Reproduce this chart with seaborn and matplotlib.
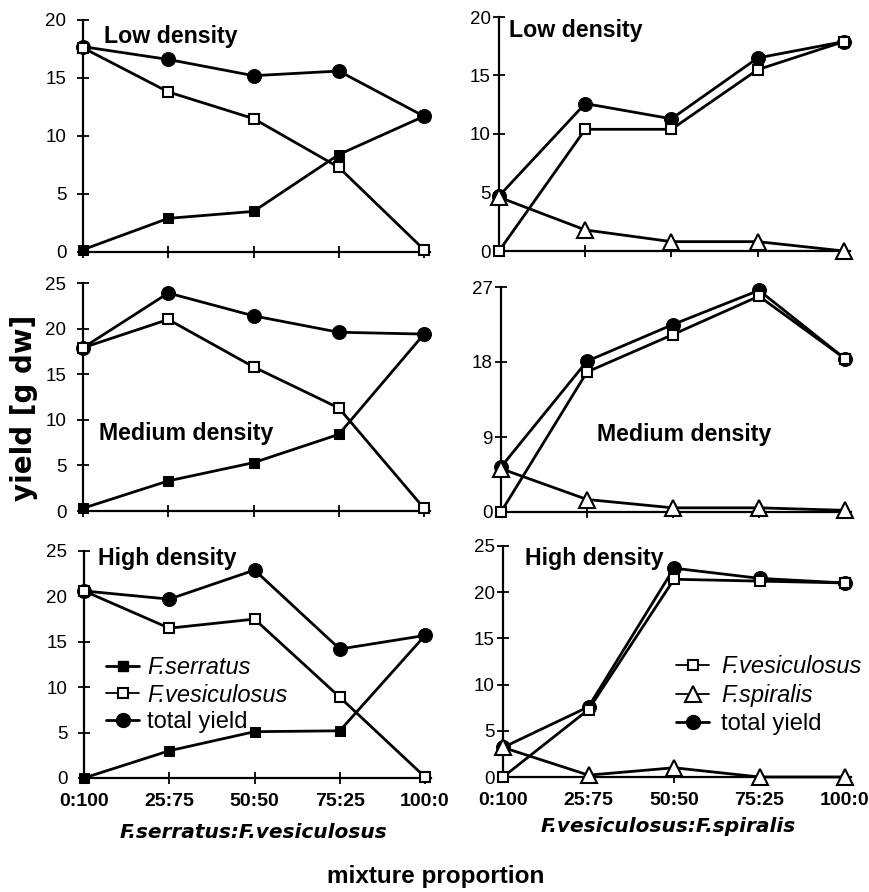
import numpy as np
import pandas as pd
import matplotlib
matplotlib.use("Agg")
import matplotlib.pyplot as plt
import seaborn as sns
from matplotlib.lines import Line2D

sns.set_style("ticks")
plt.rcParams['font.family'] = ['Liberation Sans', 'DejaVu Sans']
plt.rcParams['text.color'] = 'black'
plt.rcParams['axes.labelcolor'] = 'black'
plt.rcParams['xtick.color'] = 'black'
plt.rcParams['ytick.color'] = 'black'
plt.rcParams['axes.edgecolor'] = 'black'

# ---------------- data ----------------
proportions = ["0:100", "25:75", "50:50", "75:25", "100:0"]

# left column: F.serratus : F.vesiculosus
low_L_serratus = [0.2, 2.9, 3.5, 8.4, 11.7]
low_L_vesic = [17.6, 13.8, 11.5, 7.3, 0.2]
low_L_total = [17.7, 16.6, 15.2, 15.6, 11.7]

med_L_serratus = [0.3, 3.3, 5.3, 8.4, 19.4]
med_L_vesic = [17.9, 21.0, 15.8, 11.3, 0.3]
med_L_total = [17.9, 23.9, 21.4, 19.6, 19.4]

high_L_serratus = [0.0, 3.0, 5.1, 5.2, 15.7]
high_L_vesic = [20.6, 16.5, 17.5, 8.9, 0.1]
high_L_total = [20.6, 19.7, 22.9, 14.2, 15.7]

# right column: F.vesiculosus : F.spiralis
low_R_vesic = [0.0, 10.4, 10.4, 15.5, 17.9]
low_R_spiralis = [4.6, 1.8, 0.8, 0.8, 0.0]
low_R_total = [4.7, 12.6, 11.3, 16.5, 17.9]

med_R_vesic = [0.0, 16.8, 21.3, 25.9, 18.4]
med_R_spiralis = [5.2, 1.5, 0.5, 0.5, 0.2]
med_R_total = [5.4, 18.1, 22.5, 26.6, 18.4]

high_R_vesic = [0.0, 7.3, 21.4, 21.2, 21.0]
high_R_spiralis = [3.2, 0.2, 1.0, 0.0, 0.0]
high_R_total = [3.2, 7.6, 22.6, 21.5, 21.0]

density_titles = ["Low density", "Medium density", "High density"]
left_xlabel = "F.serratus:F.vesiculosus"
right_xlabel = "F.vesiculosus:F.spiralis"

# ---------------- figure ----------------
W, H = 870, 892
fig = plt.figure(figsize=(W / 100, H / 100), dpi=100)

def ax_px(x0, x1, ytop, ybot):
    return fig.add_axes([x0 / W, 1 - ybot / H, (x1 - x0) / W, (ybot - ytop) / H])

axes = {
    ("L", 0): ax_px(83, 430, 20, 252),
    ("R", 0): ax_px(499, 850, 17, 251),
    ("L", 1): ax_px(83, 430, 283, 511),
    ("R", 1): ax_px(501, 851, 287, 512),
    ("L", 2): ax_px(84, 431, 551, 778),
    ("R", 2): ax_px(503, 851, 546, 777),
}

xs = np.arange(len(proportions))

styles = {
    "total": dict(marker="o", markersize=10, markerfacecolor="black", markeredgecolor="black"),
    "serratus": dict(marker="s", markersize=7.5, markerfacecolor="black", markeredgecolor="black"),
    "vesic": dict(marker="s", markersize=7.5, markerfacecolor="white", markeredgecolor="black", markeredgewidth=1.5),
    "spiralis": dict(marker="^", markersize=12, markerfacecolor="white", markeredgecolor="black", markeredgewidth=1.5),
}

def draw(ax, key, vals):
    df = pd.DataFrame({"x": xs, "y": vals})
    sns.lineplot(data=df, x="x", y="y", ax=ax, color="black", linewidth=2,
                 sort=False, clip_on=False, zorder=3, **styles[key])

left_sets = [
    (low_L_serratus, low_L_vesic, low_L_total),
    (med_L_serratus, med_L_vesic, med_L_total),
    (high_L_serratus, high_L_vesic, high_L_total),
]
right_sets = [
    (low_R_vesic, low_R_spiralis, low_R_total),
    (med_R_vesic, med_R_spiralis, med_R_total),
    (high_R_vesic, high_R_spiralis, high_R_total),
]

ylims = {("L", 0): 20, ("R", 0): 20, ("L", 1): 25, ("R", 1): 27, ("L", 2): 25, ("R", 2): 25}
yticks = {("L", 0): [0, 5, 10, 15, 20], ("R", 0): [0, 5, 10, 15, 20],
          ("L", 1): [0, 5, 10, 15, 20, 25], ("R", 1): [0, 9, 18, 27],
          ("L", 2): [0, 5, 10, 15, 20, 25], ("R", 2): [0, 5, 10, 15, 20, 25]}

for i in range(3):
    ser, ves, tot = left_sets[i]
    ax = axes[("L", i)]
    draw(ax, "total", tot)
    draw(ax, "vesic", ves)
    draw(ax, "serratus", ser)
    ves2, spi, tot2 = right_sets[i]
    ax = axes[("R", i)]
    draw(ax, "total", tot2)
    draw(ax, "vesic", ves2)
    draw(ax, "spiralis", spi)

for (col, i), ax in axes.items():
    ax.set_xlim(0, 4.07)
    ax.set_ylim(0, ylims[(col, i)])
    ax.set_yticks(yticks[(col, i)])
    ax.set_xticks(xs)
    sns.despine(ax=ax)
    for s in ("left", "bottom"):
        ax.spines[s].set_linewidth(1.6)
        ax.spines[s].set_color("black")
    ax.tick_params(axis="both", direction="inout", length=8, width=1.3,
                   labelsize=13.5, colors="black")
    ax.tick_params(axis="y", pad=8 if col == "L" else 2)
    ax.set_xlabel("")
    ax.set_ylabel("")
    if i == 2:
        ax.set_xticklabels(proportions, fontsize=14, fontweight="bold")
        ax.tick_params(axis="x", pad=7)
    else:
        ax.set_xticklabels([])

# panel titles
title_pos = {("L", 0): (104, 36), ("R", 0): (509, 31), ("L", 1): (99, 434),
             ("R", 1): (597, 435), ("L", 2): (98, 558), ("R", 2): (525, 558)}
for (col, i), (px, py) in title_pos.items():
    fig.text(px / W, 1 - py / H, density_titles[i], fontsize=16.7, fontweight="bold",
             ha="left", va="center")

# legends
lh_left = [
    Line2D([], [], color="black", linewidth=2, **styles["serratus"]),
    Line2D([], [], color="black", linewidth=1.3, **styles["vesic"]),
    Line2D([], [], color="black", linewidth=2, **styles["total"]),
]
leg1 = axes[("L", 2)].legend(lh_left, ["F.serratus", "F.vesiculosus", "total yield"],
                              loc="upper left", bbox_to_anchor=(106 / W, 1 - 656 / H),
                              bbox_transform=fig.transFigure, frameon=False,
                              handlelength=1.4, handletextpad=0.35, labelspacing=0.2,
                              fontsize=17, borderaxespad=0, borderpad=0)
for t in leg1.get_texts()[:2]:
    t.set_fontstyle("italic")

lh_right = [
    Line2D([], [], color="black", linewidth=1.3, **dict(styles["vesic"], markersize=7)),
    Line2D([], [], color="black", linewidth=1.3, **dict(styles["spiralis"], markersize=11)),
    Line2D([], [], color="black", linewidth=2, **styles["total"]),
]
leg2 = axes[("R", 2)].legend(lh_right, ["F.vesiculosus", "F.spiralis", "total yield"],
                              loc="upper left", bbox_to_anchor=(676 / W, 1 - 655 / H),
                              bbox_transform=fig.transFigure, frameon=False,
                              handlelength=1.4, handletextpad=0.5, labelspacing=0.25,
                              fontsize=17, borderaxespad=0, borderpad=0)
for t in leg2.get_texts()[:2]:
    t.set_fontstyle("italic")

# axis labels
fig.text(253 / W, 1 - 832 / H, left_xlabel, fontsize=14.5, fontweight="bold", fontstyle="italic",
         ha="center", va="center", family=["DejaVu Sans"])
fig.text(668 / W, 1 - 827 / H, right_xlabel, fontsize=14.5, fontweight="bold", fontstyle="italic",
         ha="center", va="center", family=["DejaVu Sans"])
fig.text(436 / W, 1 - 877 / H, "mixture proportion", fontsize=17.5, fontweight="bold",
         ha="center", va="center")
fig.text(24 / W, 1 - 408 / H, "yield [g dw]", fontsize=20, fontweight="bold",
         rotation=90, ha="center", va="center", family=["DejaVu Sans"])

fig.savefig("out.png", dpi=100)
